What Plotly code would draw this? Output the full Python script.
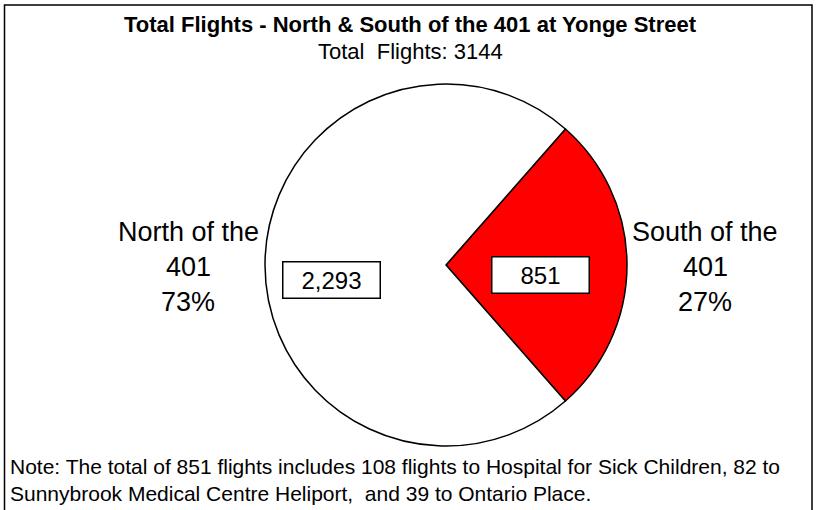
import plotly.graph_objects as go

categories = ["South of the<br>401", "North of the<br>401"]
values = [851, 2293]
colors = ["#FF0000", "#FFFFFF"]
total = sum(values)

W, H = 825, 510
cx, cy, R = 446, 265, 181
south_frac = values[0] / total
rotation = 90 - south_frac * 360 / 2

fig = go.Figure(go.Pie(
    labels=categories, values=values, sort=False, direction="clockwise",
    rotation=rotation, textinfo="none", hoverinfo="label+value+percent",
    marker=dict(colors=colors, line=dict(color="black", width=1.5)),
    domain=dict(x=[(cx - R) / W, (cx + R) / W], y=[(H - cy - R) / H, (H - cy + R) / H]),
    showlegend=False,
))

font = "Liberation Sans, Arial, sans-serif"
ann = []
ann.append(dict(x=410 / W, y=1 - 24 / H, text="<b>Total Flights - North &amp; South of the 401 at Yonge Street</b>",
                showarrow=False, font=dict(size=22, color="black", family=font), xanchor="center", yanchor="middle"))
ann.append(dict(x=410 / W, y=1 - 52 / H, text="Total  Flights: %d" % total,
                showarrow=False, font=dict(size=22, color="black", family=font), xanchor="center", yanchor="middle"))
pct = [round(v / total * 100) for v in values]

# outside labels, one annotation per line
label_x = {1: 188, 0: 705}
line_y = [232, 267, 302]
for i in (0, 1):
    lines = categories[i].split("<br>") + ["%d%%" % pct[i]]
    for ln, yy in zip(lines, line_y):
        ann.append(dict(x=label_x[i] / W, y=1 - yy / H, text=ln, showarrow=False,
                        font=dict(size=27, color="black", family=font), xanchor="center", yanchor="middle"))

# value boxes
box_pos = {1: (331, 280), 0: (540, 275)}
for i in (0, 1):
    bx, by = box_pos[i]
    ann.append(dict(x=bx / W, y=1 - by / H, text="{:,}".format(values[i]), showarrow=False,
                    font=dict(size=24, color="black", family=font), bgcolor="white", bordercolor="black",
                    borderwidth=1.5, width=94, height=33, xanchor="center", yanchor="middle"))

ann.append(dict(x=8 / W, y=1 - 466 / H, text="Note: The total of 851 flights includes 108 flights to Hospital for Sick Children, 82 to",
                showarrow=False, font=dict(size=21, color="black", family=font), xanchor="left", yanchor="middle"))
ann.append(dict(x=8 / W, y=1 - 493 / H, text="Sunnybrook Medical Centre Heliport,  and 39 to Ontario Place.",
                showarrow=False, font=dict(size=21, color="black", family=font), xanchor="left", yanchor="middle"))
for a in ann:
    a["xref"] = "paper"
    a["yref"] = "paper"

fig.update_layout(
    width=W, height=H, margin=dict(l=0, r=0, t=0, b=0),
    paper_bgcolor="white", plot_bgcolor="white",
    annotations=ann,
    shapes=[dict(type="rect", xref="paper", yref="paper", x0=4.5 / W, x1=812 / W, y0=-0.05, y1=1 - 5 / H,
                 line=dict(color="black", width=1.5))],
)
fig.write_html("out.html", config={"displayModeBar": False},
               post_script="document.body.style.margin='0';")
